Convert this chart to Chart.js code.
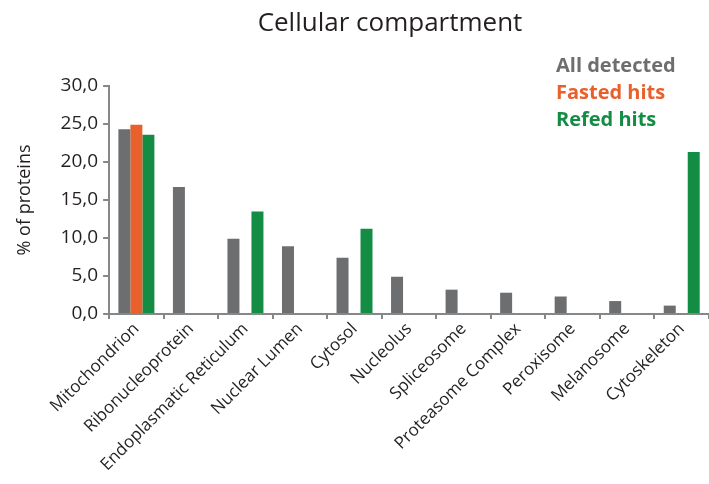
<!DOCTYPE html>
<html>
<head>
<meta charset="utf-8">
<script src="https://cdn.jsdelivr.net/npm/chart.js@4"></script>
<style>
  html, body { margin: 0; padding: 0; background: #ffffff; }
  #wrap { width: 709px; height: 484px; }
</style>
</head>
<body>
<div id="wrap"><canvas id="myChart"></canvas></div>
<script>
const categories = [
    "Mitochondrion", "Ribonucleoprotein", "Endoplasmatic Reticulum", "Nuclear Lumen",
    "Cytosol", "Nucleolus", "Spliceosome", "Proteasome Complex",
    "Peroxisome", "Melanosome", "Cytoskeleton"
];
const allDetected = [24.3, 16.7, 9.9, 8.9, 7.4, 4.9, 3.2, 2.8, 2.3, 1.7, 1.1];
const fastedHits  = [24.9, null, null, null, null, null, null, null, null, null, null];
const refedHits   = [23.6, null, 13.5, null, 11.2, null, null, null, null, null, 21.3];

const seriesNames  = ["All detected", "Fasted hits", "Refed hits"];
const seriesColors = ["#6d6e70", "#e8602c", "#138d44"];

const axisColor = "#858789";
const textColor = "#231f20";
const font      = "'Open Sans', 'DejaVu Sans', sans-serif";

// title + text-only legend, drawn in the top right like the original
const overlay = {
    id: "overlay",
    afterDraw(chart) {
        const c = chart.ctx;
        c.save();
        c.textBaseline = "middle";
        c.fillStyle = textColor;
        c.font = `26px ${font}`;
        c.textAlign = "center";
        c.fillText("Cellular compartment", 390, 24);

        c.textAlign = "left";
        c.font = `bold 20px ${font}`;
        chart.data.datasets.forEach((ds, i) => {
            c.fillStyle = ds.backgroundColor;
            c.fillText(ds.label, 556, 66 + i * 27);
        });
        c.restore();
    }
};

const ctx = document.getElementById("myChart").getContext("2d");
new Chart(ctx, {
    type: "bar",
    data: {
        labels: categories,
        datasets: [allDetected, fastedHits, refedHits].map((values, i) => ({
            label: seriesNames[i],
            data: values,
            backgroundColor: seriesColors[i],
            borderWidth: 0,
        }))
    },
    options: {
        responsive: true,
        maintainAspectRatio: false,
        animation: false,
        layout: { padding: { top: 86, right: 0, left: 10, bottom: 9 } },
        datasets: { bar: { categoryPercentage: 0.66, barPercentage: 1.0 } },
        plugins: {
            legend: { display: false },
            title: { display: false },
            tooltip: { enabled: false },
        },
        scales: {
            x: {
                border: { color: axisColor, width: 2 },
                grid: { drawOnChartArea: false, color: axisColor, lineWidth: 2, tickLength: 5 },
                ticks: {
                    color: textColor,
                    font: { family: font, size: 17 },
                    minRotation: 45,
                    maxRotation: 45,
                    autoSkip: false,
                    padding: 0,
                }
            },
            y: {
                min: 0,
                max: 30,
                border: { color: axisColor, width: 2 },
                grid: { drawOnChartArea: false, color: axisColor, lineWidth: 2, tickLength: 6 },
                ticks: {
                    stepSize: 5,
                    color: textColor,
                    font: { family: font, size: 19 },
                    padding: 5,
                    callback: v => v.toFixed(1).replace(".", ","),
                },
                title: {
                    display: true,
                    text: "% of proteins",
                    color: textColor,
                    font: { family: font, size: 18 },
                    padding: { bottom: 20 },
                }
            }
        }
    },
    plugins: [overlay]
});
</script>
</body>
</html>
